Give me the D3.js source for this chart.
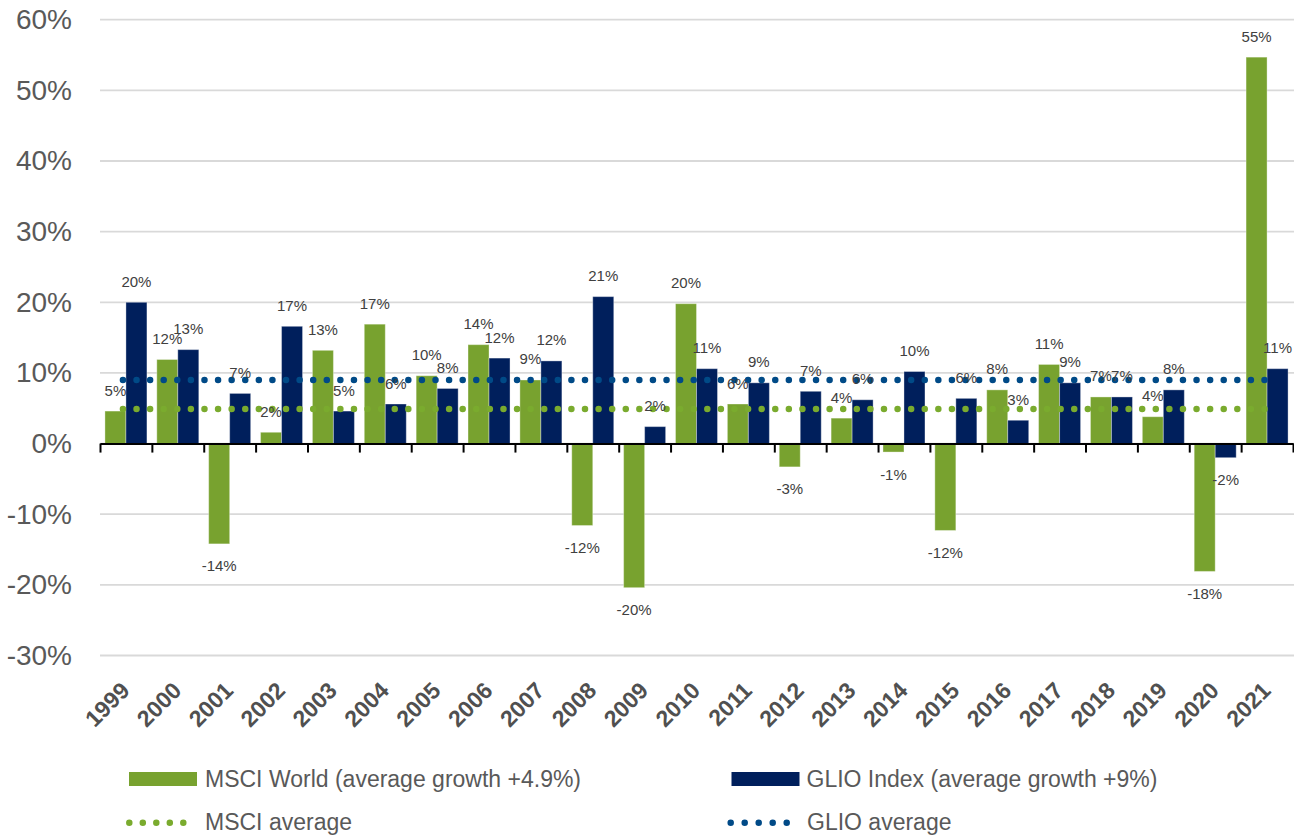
<!DOCTYPE html>
<html>
<head>
<meta charset="utf-8">
<script src="https://cdn.jsdelivr.net/npm/d3@7"></script>
<style>
  body { margin: 0; background: #ffffff; }
  svg text { font-family: "Liberation Sans", Arial, sans-serif; }
</style>
</head>
<body>
<div id="chart"></div>
<script>
// Yearly growth, MSCI World vs GLIO Index (in %)
const years = ["1999","2000","2001","2002","2003","2004","2005","2006","2007","2008","2009","2010",
               "2011","2012","2013","2014","2015","2016","2017","2018","2019","2020","2021"];
const msciValues = [4.6, 11.9, -14.2, 1.6, 13.2, 16.9, 9.6, 14.0, 9.0, -11.6, -20.4, 19.8,
                    5.6, -3.3, 3.6, -1.2, -12.3, 7.6, 11.2, 6.6, 3.8, -18.1, 54.7];
const glioValues = [20.0, 13.3, 7.1, 16.6, 4.6, 5.6, 7.8, 12.1, 11.7, 20.8, 2.4, 10.6,
                    8.6, 7.4, 6.2, 10.2, 6.4, 3.3, 8.6, 6.6, 7.6, -2.0, 10.6];
const msciAverage = 4.9;
const glioAverage = 9;
const yTicks = [-30, -20, -10, 0, 10, 20, 30, 40, 50, 60];
const seriesNames = ["msci", "glio"];
const legendLabels = ["MSCI World (average growth +4.9%)", "GLIO Index (average growth +9%)",
                      "MSCI average", "GLIO average"];

// Size and colours
let w = 1294;
let h = 836;
const green = "#78a22f";
const navy = "#001f5c";
const greenDots = "#7aab2e";
const navyDots = "#004a87";

let svg = d3.select("#chart")
  .append("svg")
  .attr("width", w)
  .attr("height", h);

let x = d3.scaleBand()
  .domain(years)
  .range([100, 1293])
  .padding(0);

let xSub = d3.scaleBand()
  .domain(seriesNames)
  .range([0, x.bandwidth()])
  .paddingInner(0)
  .paddingOuter(0.235);

// boundaries between the years, for the tick marks on the zero line
let xEdges = d3.scaleLinear()
  .domain([0, years.length])
  .range([100, 1293]);

let y = d3.scaleLinear()
  .domain([-30, 60])
  .range([655.5, 19.7]);

// Horizontal gridlines
svg.append("g")
  .selectAll("line")
  .data(yTicks)
  .enter()
  .append("line")
  .attr("x1", 100)
  .attr("x2", 1294)
  .attr("y1", d => y(d))
  .attr("y2", d => y(d))
  .attr("stroke", "#d9d9d9")
  .attr("stroke-width", 1.8);

// Y axis labels
let yAxis = d3.axisLeft(y)
  .tickValues(yTicks)
  .tickFormat(d => d + "%")
  .tickSize(0)
  .tickPadding(28);
let yAxisG = svg.append("g")
  .attr("transform", "translate(100,0)")
  .call(yAxis);
yAxisG.select(".domain").remove();
yAxisG.selectAll("text")
  .attr("font-size", 28)
  .attr("fill", "#595959")
  .attr("font-family", "Liberation Sans, Arial, sans-serif");

// Bars
let rows = years.map((yr, i) => ({year: yr, msci: msciValues[i], glio: glioValues[i]}));
const colorOf = {msci: green, glio: navy};

let barData = [];
rows.forEach(r => {
  seriesNames.forEach(s => barData.push({year: r.year, key: s, value: r[s]}));
});

svg.append("g")
  .selectAll("rect")
  .data(barData)
  .enter()
  .append("rect")
  .attr("x", d => x(d.year) + xSub(d.key))
  .attr("y", d => y(Math.max(0, d.value)))
  .attr("width", xSub.bandwidth())
  .attr("height", d => Math.abs(y(d.value) - y(0)))
  .attr("fill", d => colorOf[d.key])
  .attr("stroke", "#ffffff")
  .attr("stroke-opacity", 0.35)
  .attr("stroke-width", 1);

// Zero line with ticks at the year boundaries
let zeroAxis = d3.axisBottom(xEdges)
  .tickValues(d3.range(years.length + 1))
  .tickSize(9)
  .tickSizeOuter(0)
  .tickFormat("");
let zeroG = svg.append("g")
  .attr("transform", "translate(0," + y(0) + ")")
  .call(zeroAxis);
zeroG.select(".domain").attr("stroke", "#000").attr("stroke-width", 2);
zeroG.selectAll(".tick line").attr("stroke", "#000").attr("stroke-width", 2);

// Dotted average lines
let firstX = x(years[0]) + x.bandwidth() / 2 - 3;
let lastX = x(years[years.length - 1]) + x.bandwidth() / 2;
[[msciAverage, greenDots], [glioAverage, navyDots]].forEach(a => {
  svg.append("line")
    .attr("x1", firstX)
    .attr("x2", lastX)
    .attr("y1", y(a[0]))
    .attr("y2", y(a[0]))
    .attr("stroke", a[1])
    .attr("stroke-width", 6.5)
    .attr("stroke-linecap", "round")
    .attr("stroke-dasharray", "0 13.59");
});

// Data labels (plain hyphen for negatives, like the original)
let fmt = v => Math.round(v) + "%";
svg.append("g")
  .selectAll("text")
  .data(barData)
  .enter()
  .append("text")
  .attr("x", d => x(d.year) + xSub(d.key) + xSub.bandwidth() / 2)
  .attr("y", d => d.value >= 0 ? y(d.value) - 15.5 : y(d.value) + 27.5)
  .attr("text-anchor", "middle")
  .attr("font-size", 15)
  .attr("fill", "#404040")
  .text(d => fmt(d.value));

// Year labels, rotated, below the plot
svg.append("g")
  .selectAll("text")
  .data(years)
  .enter()
  .append("text")
  .attr("transform", d => "translate(" + (x(d) + x.bandwidth() / 2 + 5) + ",692) rotate(-45)")
  .attr("text-anchor", "end")
  .attr("font-size", 23)
  .attr("font-weight", "bold")
  .attr("fill", "#505050")
  .text(d => d);

// Legend
let legend = svg.append("g");
legend.append("rect").attr("x", 129).attr("y", 772).attr("width", 68).attr("height", 14).attr("fill", green);
legend.append("rect").attr("x", 731.5).attr("y", 772).attr("width", 68).attr("height", 14).attr("fill", navy);
legend.append("line")
  .attr("x1", 129.3).attr("x2", 183.5).attr("y1", 822.7).attr("y2", 822.7)
  .attr("stroke", greenDots).attr("stroke-width", 6.5)
  .attr("stroke-linecap", "round").attr("stroke-dasharray", "0 13.5");
legend.append("line")
  .attr("x1", 730.7).attr("x2", 786.8).attr("y1", 822.7).attr("y2", 822.7)
  .attr("stroke", navyDots).attr("stroke-width", 6.5)
  .attr("stroke-linecap", "round").attr("stroke-dasharray", "0 14");

const legendPos = [[205, 786.5], [806.5, 786.5], [205, 830], [807, 830]];
legend.selectAll("text")
  .data(legendLabels)
  .enter()
  .append("text")
  .attr("x", (d, i) => legendPos[i][0])
  .attr("y", (d, i) => legendPos[i][1])
  .attr("font-size", 23)
  .attr("fill", "#595959")
  .text(d => d);
</script>
</body>
</html>
